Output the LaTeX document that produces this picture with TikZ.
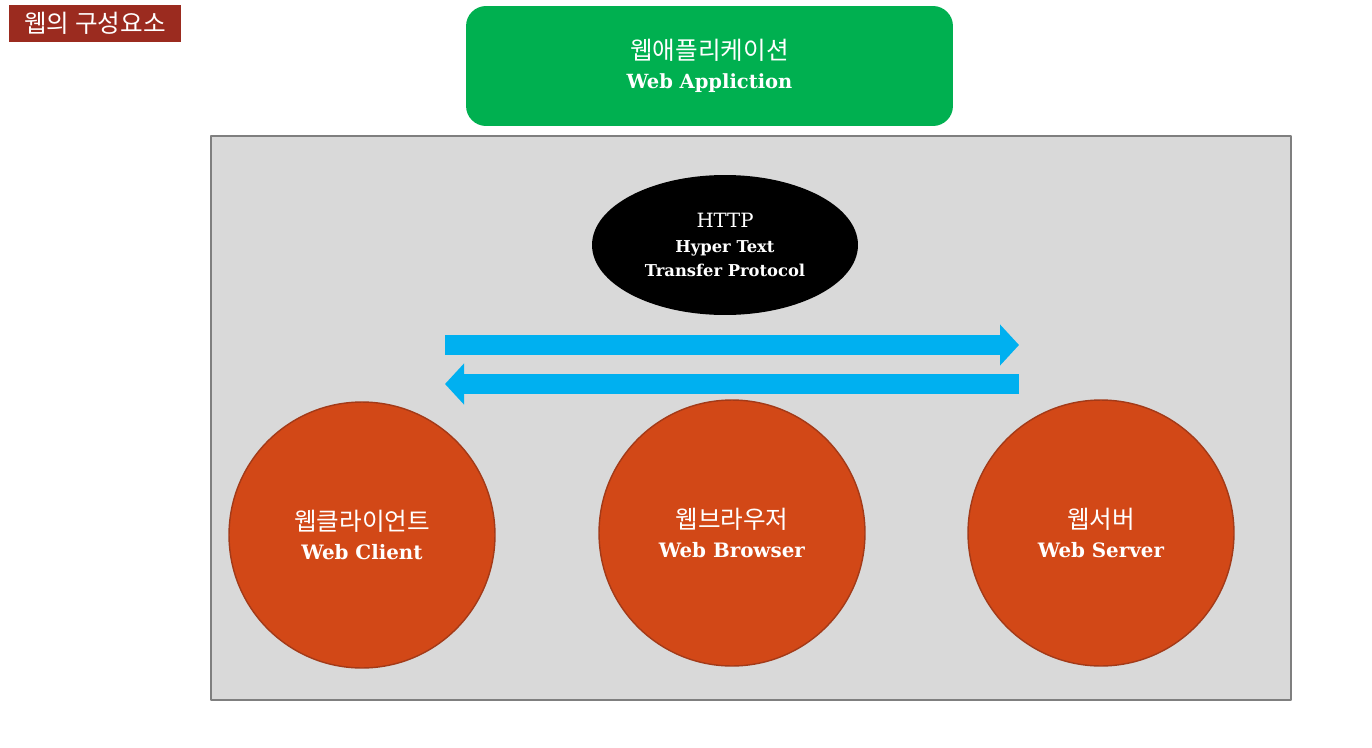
\documentclass[tikz,border=0pt]{standalone}
\usepackage{fontspec}
\setmainfont{DejaVu Serif}
\newfontfamily\kr{Noto Sans CJK KR}
\usetikzlibrary{shapes.geometric,arrows.meta}
\definecolor{titlered}{HTML}{9B2B1F}
\definecolor{appgreen}{HTML}{00B050}
\definecolor{panelgray}{HTML}{D9D9D9}
\definecolor{rimgray}{HTML}{7F7F7F}
\definecolor{partorange}{HTML}{D24817}
\definecolor{partrim}{HTML}{A33A18}
\definecolor{flowblue}{HTML}{00B0F0}
\newcommand\krtext[1]{{\kr\fontsize{14}{16.4}\selectfont #1}}
\tikzset{
	part/.style={circle, fill=partorange, draw=partrim, line width=0.8pt, minimum size=5.32cm, text=white, align=center, font=\fontsize{11.3}{16.4}\selectfont},
	flow/.style={flowblue, line width=0.4cm, -{Triangle[length=0.38cm, width=0.8cm]}}
}
\begin{document}
\begin{tikzpicture}[x=0.02cm, y=-0.02cm, line join=round]
		\useasboundingbox (0,0) rectangle (1372,747);
		\node[fill=titlered, minimum width=3.44cm, minimum height=0.74cm, text=white, font=\kr\fontsize{14}{15}\selectfont] (title) at (95,23.5) {웹의 구성요소};
		\node[fill=appgreen, rounded corners=0.4cm, minimum width=9.74cm, minimum height=2.4cm, text=white, align=center, font=\fontsize{11.1}{16.4}\selectfont] (app) at (709.5,66) {\krtext{웹애플리케이션}\\\textbf{Web Appliction}};
		\draw[fill=panelgray, draw=rimgray, line width=0.8pt] (211,136) rectangle (1291,700);
		\node[ellipse, fill=black, minimum width=5.32cm, minimum height=2.8cm, text=white, align=center, font=\fontsize{9.3}{14}\selectfont] (http) at (725,245) {{\fontsize{11.2}{14}\selectfont HTTP}\\\textbf{Hyper Text}\\\textbf{Transfer Protocol}};
		\coordinate (req0) at (445,345);
		\coordinate (req1) at (1019,345);
		\coordinate (res0) at (1019,384);
		\coordinate (res1) at (445,384);
		\draw[flow] (req0)--(req1);
		\draw[flow] (res0)--(res1);
		\node[part] (client) at (362,535) {\krtext{웹클라이언트}\\\textbf{Web Client}};
		\node[part] (browser) at (732,533) {\krtext{웹브라우저}\\\textbf{Web Browser}};
		\node[part] (server) at (1101,533) {\krtext{웹서버}\\\textbf{Web Server}};
	\end{tikzpicture}
\end{document}
